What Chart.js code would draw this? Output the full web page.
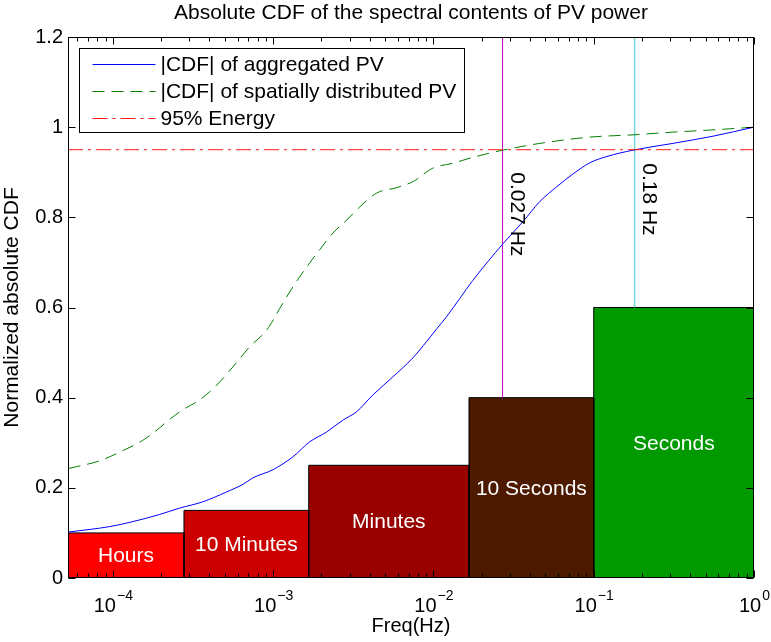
<!DOCTYPE html>
<html>
<head>
<meta charset="utf-8">
<title>Absolute CDF</title>
<script src="https://cdn.jsdelivr.net/npm/chart.js@4.4.1/dist/chart.umd.min.js"></script>
<style>
  html, body { margin: 0; padding: 0; background: #fff; }
</style>
</head>
<body>
<canvas id="cdfChart" width="771" height="642"></canvas>
<script>
"use strict";

// |CDF| of aggregated PV (frequency in Hz, normalized value)
const aggFreq = [5.3e-5, 9.55e-5, 1.33e-4, 1.96e-4, 2.61e-4, 3.64e-4, 5.13e-4, 6.5e-4, 7.46e-4, 9.95e-4,
  1.33e-3, 1.69e-3, 2.16e-3, 2.72e-3, 3.32e-3, 4.19e-3, 5.58e-3, 7.43e-3, 9.09e-3, 1.05e-2,
  1.21e-2, 1.46e-2, 1.76e-2, 2.71e-2, 3.61e-2, 4.61e-2, 5.89e-2, 7.41e-2, 9.46e-2, 0.121,
  0.176, 0.312, 0.555, 1];
const aggCdf = [0.102, 0.114, 0.125, 0.141, 0.155, 0.169, 0.191, 0.208, 0.222, 0.24,
  0.269, 0.302, 0.324, 0.35, 0.369, 0.406, 0.446, 0.488, 0.525, 0.553,
  0.58, 0.62, 0.66, 0.741, 0.79, 0.835, 0.868, 0.896, 0.921, 0.935,
  0.949, 0.964, 0.98, 1.0];

// |CDF| of spatially distributed PV
const distFreq = [5.3e-5, 8.28e-5, 1.1e-4, 1.53e-4, 1.96e-4, 2.17e-4, 2.73e-4, 3.48e-4, 4.45e-4, 5.6e-4,
  7.15e-4, 9.12e-4, 1.1e-3, 1.33e-3, 1.62e-3, 1.95e-3, 2.36e-3, 2.88e-3, 3.47e-3, 4.43e-3,
  5.91e-3, 7.43e-3, 9.91e-3, 1.32e-2, 1.76e-2, 2.71e-2, 4.61e-2, 9.46e-2, 0.176, 0.312,
  0.555, 1];
const distCdf = [0.243, 0.26, 0.279, 0.305, 0.333, 0.347, 0.373, 0.395, 0.428, 0.468,
  0.513, 0.55, 0.598, 0.646, 0.69, 0.728, 0.765, 0.794, 0.823, 0.854,
  0.866, 0.879, 0.909, 0.92, 0.933, 0.949, 0.964, 0.978, 0.983, 0.989,
  0.994, 1.0];

// time-scale bands
const bandNames = ["Hours", "10 Minutes", "Minutes", "10 Seconds", "Seconds"];
const bandEdges = [5.25e-5, 1 / 3600, 1 / 600, 1 / 60, 1 / 10, 1];
const bandHeights = [0.1, 0.15, 0.25, 0.4, 0.6];
const bandColors = ["#ff0000", "#cc0000", "#990000", "#4d1a00", "#009900"];

// 95% energy level and the frequencies where it is reached
const energyLevel = 0.95;
const markerFreq = [0.027, 0.18];
const markerLabels = ["0.027 Hz", "0.18 Hz"];
const markerBase = [0.4, 0.6];
const markerLabelY = [0.9, 0.92];
const markerColors = ["#bf00bf", "#72d6d6"];

const xMin = 5.25e-5;
const xMax = 1;
const yMax = 1.2;
const xTicks = [1e-4, 1e-3, 1e-2, 1e-1, 1];
const xTickExp = ["\u22124", "\u22123", "\u22122", "\u22121", "0"];
const yTicks = [0, 0.2, 0.4, 0.6, 0.8, 1, 1.2];

const FONT = "'Liberation Sans', Arial, Helvetica, sans-serif";
Chart.defaults.font.family = FONT;
Chart.defaults.font.size = 20;
Chart.defaults.color = "#000";

const toPoints = (xs, ys) => xs.map((x, i) => ({ x: x, y: ys[i] }));

const datasets = [
  {
    label: "|CDF| of aggregated PV",
    data: toPoints(aggFreq, aggCdf),
    borderColor: "#0000ff",
    borderWidth: 1,
    cubicInterpolationMode: "monotone",
    order: 2,
  },
  {
    label: "|CDF| of spatially distributed PV",
    data: toPoints(distFreq, distCdf),
    borderColor: "#008000",
    borderWidth: 1,
    borderDash: [12, 7],
    cubicInterpolationMode: "monotone",
    order: 2,
  },
  {
    label: "95% Energy",
    data: [{ x: xMin, y: energyLevel }, { x: xMax, y: energyLevel }],
    borderColor: "#ff1a1a",
    borderWidth: 1,
    borderDash: [15, 5, 3, 5],
    order: 1,
  },
];

// вертикальные линии
markerFreq.forEach((f, i) => {
  datasets.push({
    label: markerLabels[i],
    data: [{ x: f, y: markerBase[i] }, { x: f, y: yMax }],
    borderColor: markerColors[i],
    borderWidth: i === 0 ? 1 : 1.5,
    order: 3,
  });
});

// прямоугольники
bandNames.forEach((name, i) => {
  const x0 = bandEdges[i];
  const x1 = bandEdges[i + 1];
  const h = bandHeights[i];
  datasets.push({
    label: name,
    data: [{ x: x0, y: 0 }, { x: x0, y: h }, { x: x1, y: h }, { x: x1, y: 0 }],
    borderColor: "#000",
    borderWidth: 1,
    backgroundColor: bandColors[i],
    fill: "origin",
    order: 4,
  });
});

const decorPlugin = {
  id: "decor",
  afterDatasetsDraw(chart) {
    const { ctx, chartArea: a, scales } = chart;
    const xs = scales.x;
    const ys = scales.y;
    ctx.save();

    // band labels
    ctx.fillStyle = "#fff";
    ctx.font = "21px " + FONT;
    ctx.textAlign = "center";
    ctx.textBaseline = "middle";
    bandNames.forEach((name, i) => {
      const cx = (xs.getPixelForValue(bandEdges[i]) + xs.getPixelForValue(bandEdges[i + 1])) / 2;
      const cy = ys.getPixelForValue(bandHeights[i] / 2);
      ctx.fillText(name, cx, cy + 1);
    });

    // rotated marker labels
    ctx.fillStyle = "#000";
    ctx.textAlign = "left";
    markerFreq.forEach((f, i) => {
      ctx.save();
      ctx.translate(xs.getPixelForValue(f) + 14, ys.getPixelForValue(markerLabelY[i]));
      ctx.rotate(Math.PI / 2);
      ctx.fillText(markerLabels[i], 0, 0);
      ctx.restore();
    });

    // frame and inward ticks
    ctx.strokeStyle = "#000";
    ctx.lineWidth = 1;
    const L = Math.round(a.left) + 0.5;
    const R = Math.round(a.right) - 0.5;
    const T = Math.round(a.top) + 0.5;
    const B = Math.round(a.bottom) - 0.5;
    ctx.strokeRect(L, T, R - L, B - T);
    ctx.beginPath();
    for (let d = -5; d <= 0; d++) {
      for (let k = 1; k <= 9; k++) {
        const v = k * Math.pow(10, d);
        if (v < xMin || v > xMax) continue;
        const px = Math.round(xs.getPixelForValue(v)) + 0.5;
        const len = k === 1 ? 7 : 4;
        ctx.moveTo(px, B); ctx.lineTo(px, B - len);
        ctx.moveTo(px, T); ctx.lineTo(px, T + len);
      }
    }
    yTicks.forEach((v) => {
      const py = Math.round(ys.getPixelForValue(v)) + 0.5;
      ctx.moveTo(L, py); ctx.lineTo(L + 7, py);
      ctx.moveTo(R, py); ctx.lineTo(R - 7, py);
    });
    ctx.stroke();

    // x tick labels 10^n
    ctx.textAlign = "left";
    ctx.textBaseline = "alphabetic";
    xTicks.forEach((v, i) => {
      const px = xs.getPixelForValue(v);
      ctx.font = "20px " + FONT;
      const wBase = ctx.measureText("10").width;
      ctx.font = "14px " + FONT;
      const wExp = ctx.measureText(xTickExp[i]).width;
      const x0 = px - (wBase + wExp) / 2;
      ctx.font = "20px " + FONT;
      ctx.fillText("10", x0, a.bottom + 34);
      ctx.font = "14px " + FONT;
      ctx.fillText(xTickExp[i], x0 + wBase + 1, a.bottom + 22);
    });

    // legend
    const items = datasets.slice(0, 3);
    ctx.font = "21px " + FONT;
    let maxW = 0;
    items.forEach((d) => { maxW = Math.max(maxW, ctx.measureText(d.label).width); });
    const bx = a.left + 11.5;
    const by = a.top + 11.5;
    const bw = Math.round(81 + maxW + 8);
    const bh = 84;
    ctx.fillStyle = "#fff";
    ctx.fillRect(bx, by, bw, bh);
    ctx.strokeRect(bx, by, bw, bh);
    items.forEach((d, i) => {
      const ry = by + 16 + i * 27;
      ctx.save();
      ctx.strokeStyle = d.borderColor;
      ctx.setLineDash(d.borderDash || []);
      ctx.beginPath();
      ctx.moveTo(bx + 13, ry);
      ctx.lineTo(bx + 76, ry);
      ctx.stroke();
      ctx.restore();
      ctx.fillStyle = "#000";
      ctx.textBaseline = "middle";
      ctx.fillText(d.label, bx + 81, ry + 1);
    });

    ctx.restore();
  },
};

new Chart(document.getElementById("cdfChart"), {
  type: "line",
  data: { datasets: datasets },
  options: {
    responsive: false,
    animation: false,
    devicePixelRatio: 1,
    layout: { padding: { left: 0, right: 17, top: 0, bottom: 0 } },
    elements: {
      point: { radius: 0 },
      line: { tension: 0, fill: false },
    },
    plugins: {
      legend: { display: false },
      tooltip: { enabled: false },
      title: { display: false },
    },
    scales: {
      x: {
        type: "logarithmic",
        min: xMin,
        max: xMax,
        grid: { display: false, drawTicks: false },
        border: { display: false },
        ticks: { display: false },
        title: {
          display: true,
          text: "Freq(Hz)",
          font: { size: 20 },
          padding: { top: 0, bottom: 4 },
        },
        afterFit(scale) { scale.height = 64; },
      },
      // верхняя ось только для заголовка (центр над областью графика)
      xTop: {
        type: "logarithmic",
        position: "top",
        min: xMin,
        max: xMax,
        grid: { display: false, drawTicks: false },
        border: { display: false },
        ticks: { display: false },
        title: {
          display: true,
          text: "Absolute CDF of the spectral contents of PV power",
          font: { size: 21 },
          padding: { top: 1, bottom: 0 },
        },
        afterFit(scale) { scale.height = 37; },
      },
      y: {
        type: "linear",
        min: 0,
        max: yMax,
        grid: { display: false, drawTicks: false },
        border: { display: false },
        afterBuildTicks(scale) { scale.ticks = yTicks.map((v) => ({ value: v })); },
        ticks: {
          padding: 5,
          font: { size: 20 },
          callback: (v) => String(+v.toFixed(1)),
        },
        title: {
          display: true,
          text: "Normalized absolute CDF",
          font: { size: 21 },
          padding: { top: 0, bottom: 0 },
        },
        afterFit(scale) { scale.width = 68; },
      },
    },
  },
  plugins: [decorPlugin],
});
</script>
</body>
</html>
